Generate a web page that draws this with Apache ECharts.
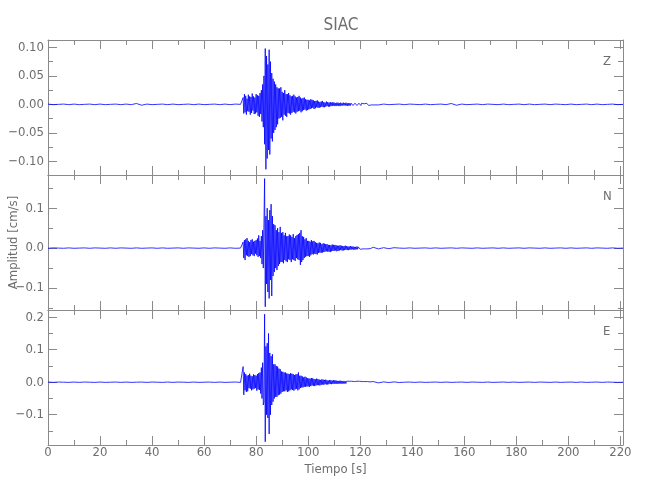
<!DOCTYPE html>
<html><head><meta charset="utf-8">
<script src="https://cdn.jsdelivr.net/npm/echarts@6/dist/echarts.min.js"></script>
<style>html,body{margin:0;padding:0;background:#fff}#c{width:650px;height:500px}</style>
</head><body><div id="c"></div>
<script>
// ---------------- data (amplitudes in 1e-3 cm/s) ----------------
const title = 'SIAC';
const componentNames = ['Z', 'N', 'E'];
const xTickLabels = [0, 20, 40, 60, 80, 100, 120, 140, 160, 180, 200, 220];
const xMinorTicks = [10, 30, 50, 70, 90, 110, 130, 150, 170, 190, 210];

// quiet part before the event: t = 0, 2, ..., 74 s
const preStart = 0, preStep = 2;
// event part: t = 74.5, 74.75, ..., 124.25 s
const eventStart = 74.5, eventStep = 0.25;
// quiet part after the event: t = 125, 127, ..., 221 s
const postStart = 125, postStep = 2;

const zPre = [0.5,-0.5,0,0.5,-0.5, 0.5,-0.5,0,0.5,-0.5, 0.5,-0.5,0,0.5,-0.5, 0.5,-0.5,1.5,-1.5,0.5, -0.5,0,0.5,-0.5,0.5, -0.5,0,0.5,-0.5,0.5, -0.5,0,0.5,-0.5,0.5, -0.5,0.5,0];
const zEvent = [
  0.5, -0.5,
  12, -16, 18, -14,
  15, -18, 10, -12,
  17, -13, 14, -18,
  13, -15, 19, -11,
  14, -17, 12, -16,
  18, -14, 16, -20,
  15, -22, 20, -17,
  25, -30, 35, -40,
  50, -70, 98, -114,
  85, -95, 70, -80,
  96, -88, 75, -60,
  55, -65, 45, -50,
  40, -45, 35, -40,
  30, -35, 28, -25,
  28, -24, 30, -22,
  22, -28, 20, -18,
  25, -20, 18, -22,
  18, -15, 20, -16,
  16, -18, 14, -15,
  15, -13, 17, -14,
  14, -16, 12, -13,
  13, -12, 15, -11,
  12, -14, 10, -12,
  11, -10, 12, -9,
  9, -11, 8, -10,
  8, -9, 7, -8, 9, -7, 8, -6,
  7, -8, 6, -7, 6, -5, 7, -6,
  5, -6, 4, -5, 5, -4, 6, -5,
  4, -5, 3, -4, 5, -3, 4, -4,
  3, -4, 4, -3, 3, -3, 4, -2,
  3, -3, 2, -3, 3, -2, 3, -3,
  2, -3, 3, -2, 2, -2, 3, -2,
  2, -2, 3, -2, 2, -3, 2, -2,
  2, -2, 2, -1, 2, -2, 1, -2,
  2, -1, 2, -2, 1, -2, 2, -1,
  1, -2, 2, -1, 2, -1, 1, -2,
  1, -1, 2, -1, 1, -2, 1, -1, 1, -1
];
const zPost = [1,-1,0.5,-0.5,0,0.5,-0.5,0.5,0,-0.5, 0.5,-0.5,0,0.5,-0.5,1.5,-1.5,0.5,-0.5,0, 0.5,-0.5,0.5,0,-0.5,0.5,-0.5,0,0.5,-0.5, 0.5,-0.5,0,0.5,-0.5,0.5,0,-0.5,0.5,-0.5, 0,0.5,-0.5,0.5,-0.5,0,0.5,-0.5,0];

const nPre = [-0.5,0.5,0,-0.5,0.5,-0.5,0,0.5,-0.5,0.5, 0,-0.5,0.5,-0.5,0.5,0,-0.5,0.5,-0.5,0, 0.5,-0.5,0.5,-0.5,0,0.5,-0.5,0.5,0,-0.5, 0.5,-0.5,0.5,0,-0.5,0.5,-0.5,0];
const nEvent = [
  0.5, -0.5,
  15, -25, 20, -30,
  22, -18, 25, -20,
  18, -22, 15, -20,
  20, -15, 22, -18,
  16, -20, 18, -14,
  20, -18, 24, -22,
  32, -20, 18, -25,
  30, -40, 45, -50,
  60, 174, -147, 80,
  -90, 100, -110, 70,
  -126, 95, -80, 110,
  -120, 80, -70, 60,
  -60, 57, -50, 45,
  -55, 50, -45, 40,
  -40, 53, -35, 38,
  -35, 40, -38, 32,
  -30, 38, -33, 30,
  -35, 30, -28, 34,
  -30, 32, -35, 28,
  -28, 35, -30, 25,
  -32, 30, -25, 33,
  -28, 35, -30, 38,
  -42, 45, -35, 30,
  -30, 28, -25, 22,
  -22, 25, -20, 18,
  -20, 18, -22, 16, -18, 20, -15, 17,
  -16, 18, -14, 15, -15, 13, -16, 12,
  -12, 14, -11, 13, -12, 10, -11, 12,
  -10, 11, -9, 10, -8, 10, -9, 8,
  -9, 8, -10, 7, -8, 9, -7, 8,
  -7, 8, -6, 7, -8, 6, -7, 6,
  -6, 7, -5, 6, -6, 5, -6, 5,
  -5, 6, -4, 5, -5, 4, -5, 4,
  -4, 5, -4, 4, -3, 4, -4, 3,
  -4, 3, -3, 4, -3, 3, -2, 3,
  -3, 2, -3, 2, -2, 3, -2, 2,
  -2, 2, -2, 1, -2, 2, -1, 2, -1, 1
];
const nPost = [2,-2,1,-1.5,1,0,-0.5,0.5,-0.5,0, 0.5,-0.5,0.5,-0.5,0,0.5,-0.5,0.5,0,-0.5, 0.5,-0.5,0,0.5,-0.5,0.5,-0.5,0,0.5,-0.5, 0.5,0,-0.5,0.5,-0.5,0,0.5,-0.5,0.5,-0.5, 0,0.5,-0.5,0.5,0,-0.5,0.5,-0.5,0];

const ePre = [0.5,-0.5,0.5,0,-0.5,0.5,-0.5,0.5,0,-0.5, 0.5,-0.5,0,0.5,-0.5,0.5,-0.5,0,0.5,-0.5, 0.5,0,-0.5,0.5,-0.5,0.5,0,-0.5,0.5,-0.5, 0,0.5,-0.5,0.5,-0.5,0,0.5,-0.5];
const eEvent = [
  0.5, -0.5,
  48, -39, 30, -25,
  25, -30, 20, -28,
  22, -18, 26, -20,
  20, -25, 18, -22,
  24, -20, 22, -18,
  20, -26, 25, -22,
  28, -24, 30, -35,
  45, -50, 60, -70,
  -60, 209, -183, 110,
  -100, 120, -110, 150,
  -159, 90, -100, 80,
  -70, 86, -60, 55,
  -50, 55, -45, 50,
  -45, 48, -40, 42,
  -38, 40, -35, 33,
  -30, 32, -28, 30,
  -28, 30, -25, 27,
  -30, 26, -28, 25,
  -25, 28, -22, 26,
  -24, 25, -26, 22,
  -22, 24, -20, 25,
  -25, 30, -22, 20,
  -18, 20, -16, 18,
  -16, 15, -14, 17,
  -14, 15, -13, 12,
  -13, 12, -14, 11, -12, 13, -10, 12,
  -11, 10, -12, 9, -10, 11, -9, 10,
  -9, 8, -10, 7, -8, 9, -7, 8,
  -8, 7, -6, 8, -7, 6, -7, 5,
  -6, 7, -5, 6, -6, 5, -5, 6,
  -5, 6, -4, 5, -5, 4, -5, 4,
  -4, 5, -4, 4, -5, 3, -4, 4,
  -4, 3, -4, 3, -3, 4, -3, 3,
  -3, 3, -2, 3, -3, 2, -3, 2,
  -3, 2, -2, 3, -2, 2, -2, 3,
  -2, 2, -2, 2, -2, 1, -2, 2,
  -2, 1, -1, 2, -1, 2, -1, 1, -1, 1
];
const ePost = [2,-2,1,-1,1,-1,0,0.5,-0.5,0.5, -0.5,0,0.5,-0.5,0.5,-0.5,0,0.5,-0.5,0.5, 0,-0.5,0.5,-0.5,0,0.5,-0.5,0.5,-0.5,0, 0.5,-0.5,0.5,0,-0.5,0.5,-0.5,0,0.5,-0.5, 0.5,-0.5,0,0.5,-0.5,0.5,0,-0.5,0];

// y axis ranges and ticks per panel
const yMins = [-0.124, -0.155, -0.193];
const yMaxs = [0.113, 0.183, 0.222];
const yMajorTicks = [[-0.10, -0.05, 0, 0.05, 0.10], [-0.1, 0, 0.1], [-0.1, 0, 0.1, 0.2]];
const yMinorTicks = [[-0.075, -0.025, 0.025, 0.075], [-0.15, -0.05, 0.05, 0.15], [-0.15, -0.05, 0.05, 0.15]];
const yDecimals = [2, 1, 1];

// ---------------- build ----------------
function buildTrace(pre, ev, post) {
  const out = [];
  pre.forEach((v, i) => out.push([preStart + i * preStep, v / 1000]));
  ev.forEach((v, i) => out.push([eventStart + i * eventStep, v / 1000]));
  post.forEach((v, i) => out.push([postStart + i * postStep, v / 1000]));
  return out;
}
const traces = [buildTrace(zPre, zEvent, zPost), buildTrace(nPre, nEvent, nPost), buildTrace(ePre, eEvent, ePost)];

const FONT = "'Liberation Sans Narrow','DejaVu Sans Condensed','Liberation Sans',sans-serif";
const AX = '#8a8a8a';
const TX = '#6e6e6e';
const gridTops = [40, 175, 310];
const grids = gridTops.map(t => ({ left: 48, right: 27, top: t, height: 135, containLabel: false, outerBoundsMode: 'none' }));

const xAxes = [], yAxes = [], series = [];
gridTops.forEach((_, gi) => {
  const baseX = { type: 'value', gridIndex: gi, min: 0, max: 221, splitLine: { show: false } };
  const mk = (pos, ticks, len, line, labels) => Object.assign({}, baseX, {
    position: pos,
    axisLine: { show: line, onZero: false, lineStyle: { color: AX, width: 1 } },
    axisTick: { show: true, inside: true, length: len, customValues: ticks, lineStyle: { color: AX, width: 1 } },
    axisLabel: labels ? { show: true, customValues: xTickLabels, color: TX, fontFamily: FONT, fontSize: 13, margin: 1 } : { show: false },
  });
  const xb = mk('bottom', xTickLabels, 9, true, gi === 2);
  if (gi === 2) {
    xb.name = 'Tiempo [s]';
    xb.nameLocation = 'middle';
    xb.nameGap = 18;
    xb.nameMoveOverlap = false;
    xb.nameTextStyle = { color: TX, fontFamily: FONT, fontSize: 13 };
  }
  xAxes.push(xb, mk('bottom', xMinorTicks, 5, false, false), mk('top', xTickLabels, 9, true, false), mk('top', xMinorTicks, 5, false, false));

  const baseY = { type: 'value', gridIndex: gi, min: yMins[gi], max: yMaxs[gi], splitLine: { show: false } };
  const dec = yDecimals[gi];
  const mky = (pos, ticks, len, line, labels) => Object.assign({}, baseY, {
    position: pos,
    axisLine: { show: line, onZero: false, lineStyle: { color: AX, width: 1 } },
    axisTick: { show: true, inside: true, length: len, customValues: ticks, lineStyle: { color: AX, width: 1 } },
    axisLabel: labels ? {
      show: true, customValues: yMajorTicks[gi], color: TX, fontFamily: FONT, fontSize: 13, margin: 4,
      formatter: v => { const s = Math.abs(v).toFixed(dec); return (v < -1e-9 ? '\u2212' : '') + s; }
    } : { show: false },
  });
  const yl = mky('left', yMajorTicks[gi], 9, true, true);
  if (gi === 1) {
    yl.name = 'Amplitud [cm/s]';
    yl.nameLocation = 'middle';
    yl.nameGap = 28;
    yl.nameMoveOverlap = false;
    yl.nameTextStyle = { color: TX, fontFamily: FONT, fontSize: 13 };
  }
  yAxes.push(yl, mky('left', yMinorTicks[gi], 5, false, false), mky('right', yMajorTicks[gi], 9, true, false), mky('right', yMinorTicks[gi], 5, false, false));

  series.push({
    type: 'line', xAxisIndex: gi * 4, yAxisIndex: gi * 4, data: traces[gi],
    showSymbol: false, symbol: 'none', clip: true,
    lineStyle: { color: '#0000ff', width: 0.8 }, emphasis: { disabled: true }
  });
});

const chart = echarts.init(document.getElementById('c'), null, { renderer: 'canvas' });
chart.setOption({
  animation: false,
  backgroundColor: '#ffffff',
  title: { text: title, left: 336, top: 12, textAlign: 'center', textStyle: { color: TX, fontFamily: FONT, fontSize: 17, fontWeight: 'normal' } },
  grid: grids,
  xAxis: xAxes,
  yAxis: yAxes,
  series: series,
  graphic: componentNames.map((n, i) => ({
    type: 'text', left: 603, top: gridTops[i] + 15,
    style: { text: n, fill: TX, font: '13px ' + FONT }
  }))
});
</script>
</body></html>
